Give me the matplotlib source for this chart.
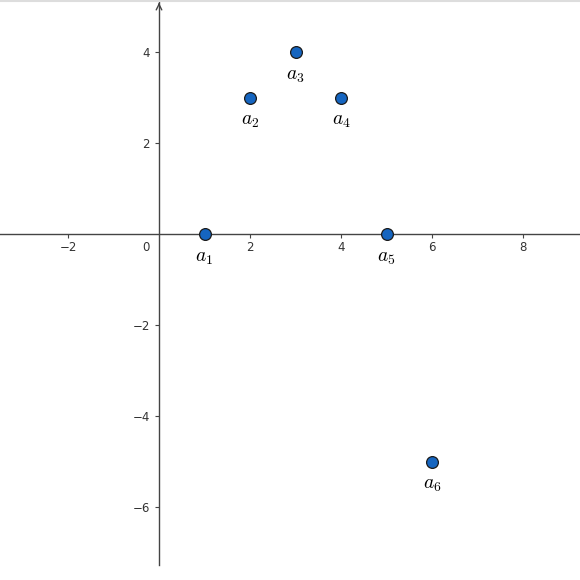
import matplotlib
matplotlib.use("Agg")
import matplotlib.pyplot as plt

# point data
xs = [1, 2, 3, 4, 5, 6]
ys = [0, 3, 4, 3, 0, -5]
names = [r"$a_1$", r"$a_2$", r"$a_3$", r"$a_4$", r"$a_5$", r"$a_6$"]

x_ticks = [-2, 2, 4, 6, 8]
y_ticks = [-6, -4, -2, 2, 4]

plt.rcParams["mathtext.fontset"] = "cm"

fig = plt.figure(figsize=(5.8, 5.8), dpi=100)
ax = fig.add_axes([0, 0, 1, 1])
scale = 45.5
ax.set_xlim(-159 / scale, 421 / scale)
ax.set_ylim(-346 / scale, 234 / scale)

for s in ["top", "right"]:
    ax.spines[s].set_visible(False)
ax.spines["left"].set_position(("data", 0))
ax.spines["bottom"].set_position(("data", 0))
ax.spines["left"].set_bounds(-331 / scale, 234 / scale)
for s in ["left", "bottom"]:
    ax.spines[s].set_color("#444444")
    ax.spines[s].set_linewidth(1.0)

ax.set_xticks(x_ticks)
ax.set_yticks(y_ticks)
ax.set_xticklabels([str(t).replace("-", "\u2212") for t in x_ticks])
ax.set_yticklabels([str(t).replace("-", "\u2212") for t in y_ticks])
ax.tick_params(axis="x", pad=2)
ax.tick_params(axis="both", direction="out", length=3, width=0.8, color="#444444",
               labelsize=8.5, labelcolor="#333333")
ax.text(-0.2, -0.15, "0", ha="right", va="top", fontsize=8.5, color="#333333")

# arrow at top of y axis
ax.annotate("", xy=(0, 234 / scale), xytext=(0, 226 / scale),
            arrowprops=dict(arrowstyle="->", color="#444444", lw=1.0))

ax.scatter(xs, ys, s=72, color="#1565C0", edgecolor="#1a1a1a", linewidth=0.9, zorder=5,
           clip_on=False)
for x, y, n in zip(xs, ys, names):
    ax.annotate(n, (x, y), xytext=(0, -10), textcoords="offset points",
                ha="center", va="top", fontsize=14, color="black")

fig.add_artist(plt.Line2D([0, 1], [0.999, 0.999], color="#dddddd", lw=1.5))
fig.savefig("out.png", dpi=100, facecolor="white")
